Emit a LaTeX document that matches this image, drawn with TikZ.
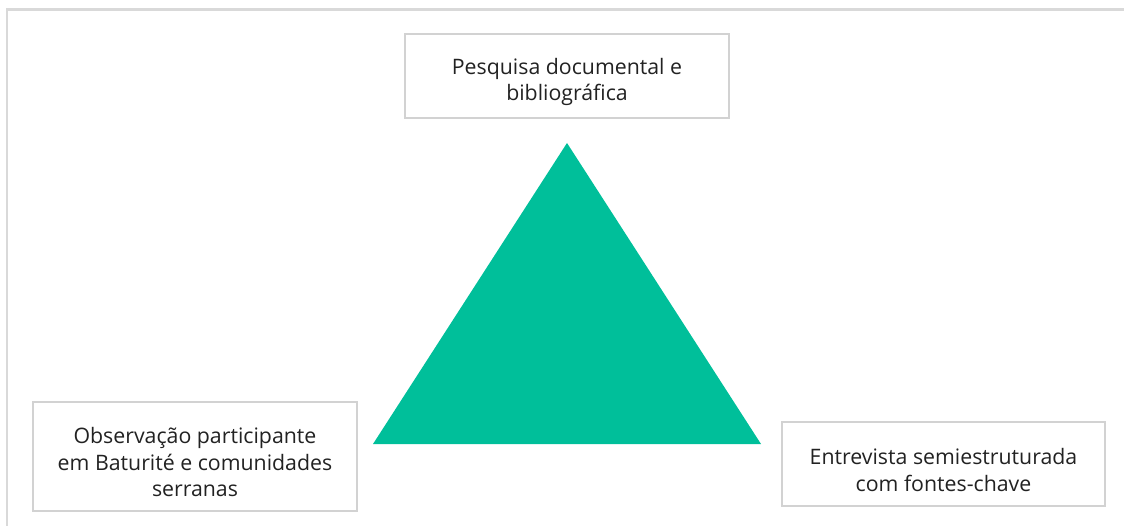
\documentclass[tikz,border=0pt]{standalone}
\usepackage{fontspec}
\setmainfont{Open Sans}
\usepackage{tikz}
\usetikzlibrary{positioning}

\definecolor{methodgreen}{RGB}{0,191,154}
\definecolor{framegray}{RGB}{217,217,217}
\definecolor{boxgray}{RGB}{210,210,210}
\definecolor{textgray}{RGB}{34,34,34}

\tikzset{
	methodbox/.style={draw=boxgray,line width=2pt,fill=white,inner sep=0pt},
	methodlabel/.style={align=center,text=textgray,inner sep=0pt,yshift=-6pt,
		font=\fontsize{21.3}{26.5}\selectfont},
}

\begin{document}
\begin{tikzpicture}[x=1pt,y=-1pt]
		\useasboundingbox (0,0) rectangle (1124,526);
		\draw[framegray,line width=2.5pt] (7,9.5) rectangle (1140,540);
		% triangle in the middle
		\coordinate (apex) at (567,143);
		\coordinate (baseleft) at (373,444);
		\coordinate (baseright) at (761,444);
		\fill[methodgreen] (apex) -- (baseleft) -- (baseright) -- cycle;
		% the three methods
		\node[methodbox,minimum width=324pt,minimum height=84pt,
			label={[methodlabel]center:Pesquisa documental e\\bibliográfica}] (pesquisa) at (567,76) {};
		\node[methodbox,minimum width=324pt,minimum height=109pt,
			label={[methodlabel]center:Observação participante\\em Baturité e comunidades\\serranas}] (observacao) at (195,456.5) {};
		\node[methodbox,minimum width=323pt,minimum height=84pt,
			label={[methodlabel]center:Entrevista semiestruturada\\com fontes-chave}] (entrevista) at (943.5,464) {};
	\end{tikzpicture}
\end{document}
